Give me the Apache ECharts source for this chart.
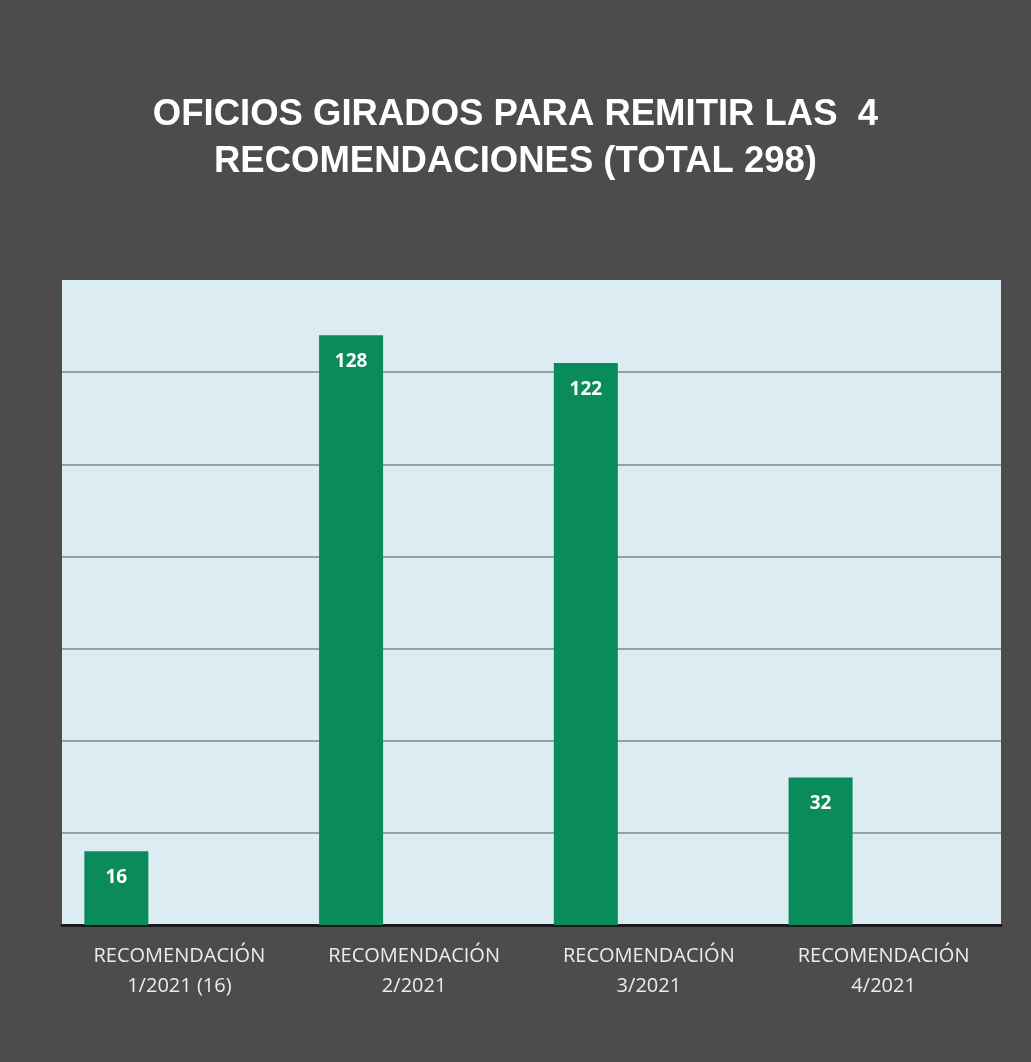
<!DOCTYPE html>
<html>
<head>
<meta charset="utf-8">
<script src="https://cdn.jsdelivr.net/npm/echarts@6/dist/echarts.min.js"></script>
<style>
html,body{margin:0;padding:0;background:#4d4b4b;}
#chart{width:1031px;height:1062px;}
</style>
</head>
<body>
<div id="chart"></div>
<script>
const titleText = 'OFICIOS GIRADOS PARA REMITIR LAS  4\nRECOMENDACIONES (TOTAL 298)';
const categories = ['RECOMENDACIÓN\n1/2021 (16)', 'RECOMENDACIÓN\n2/2021', 'RECOMENDACIÓN\n3/2021', 'RECOMENDACIÓN\n4/2021'];
const values = [16, 128, 122, 32];
const emptySeries = [null, null, null, null];

const chart = echarts.init(document.getElementById('chart'));
chart.setOption({
  backgroundColor: '#4d4b4b',
  animation: false,
  title: {
    text: titleText,
    left: 'center',
    top: 86,
    textStyle: {
      color: '#ffffff',
      fontFamily: '"Liberation Sans Narrow", "Liberation Sans", Arial, sans-serif',
      fontWeight: 'bold',
      fontSize: 36.5,
      lineHeight: 47
    }
  },
  grid: {
    left: 62, right: 30, top: 280, bottom: 137,
    show: true, backgroundColor: '#dcecf3', borderWidth: 0
  },
  xAxis: {
    type: 'category',
    data: categories,
    axisTick: {show: false},
    axisLine: {lineStyle: {color: '#1a1a1a', width: 3}},
    axisLabel: {
      color: '#ececec',
      fontFamily: '"Open Sans", Lato, sans-serif',
      fontSize: 20,
      lineHeight: 30,
      margin: 16
    }
  },
  yAxis: {
    type: 'value',
    min: 0, max: 140, interval: 20,
    axisLabel: {show: false},
    axisLine: {show: false},
    axisTick: {show: false},
    splitLine: {show: true, showMaxLine: false, lineStyle: {color: '#85898a', width: 1.5}}
  },
  series: [
    {
      type: 'bar',
      data: values,
      barWidth: 64,
      barGap: '97%',
      itemStyle: {color: '#0a8b5b'},
      label: {
        show: true,
        position: 'insideTop',
        distance: 17,
        color: '#ffffff',
        fontWeight: 'bold',
        fontSize: 19,
        fontFamily: '"Open Sans", Lato, sans-serif'
      }
    },
    {
      type: 'bar',
      data: emptySeries,
      barWidth: 64,
      itemStyle: {color: 'transparent'}
    }
  ]
});
</script>
</body>
</html>
